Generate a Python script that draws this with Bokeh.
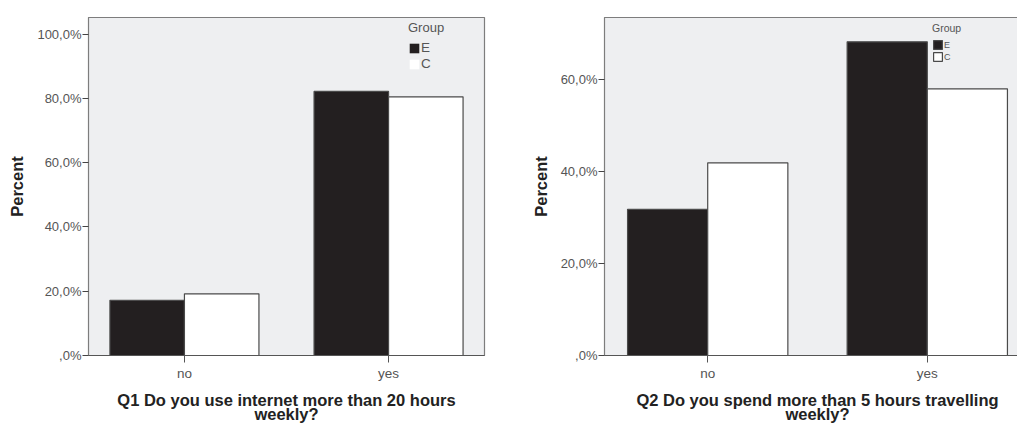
from bokeh.plotting import figure
from bokeh.layouts import row
from bokeh.models import FixedTicker, Range1d, Legend, LegendItem, ColumnDataSource
from bokeh.transform import dodge
from bokeh.embed import file_html
from bokeh.resources import INLINE

# --- data -------------------------------------------------------------
answers = ["no", "yes"]
groups = ["E", "C"]

q1_e = [17.2, 82.2]
q1_c = [19.2, 80.5]
q2_e = [31.8, 68.2]
q2_c = [41.9, 58.0]

q1_ticks = [0, 20, 40, 60, 80, 100]
q1_tick_labels = [",0%", "20,0%", "40,0%", "60,0%", "80,0%", "100,0%"]
q2_ticks = [0, 20, 40, 60]
q2_tick_labels = [",0%", "20,0%", "40,0%", "60,0%"]

q1_title = "Q1 Do you use internet more than 20 hours\nweekly?"
q2_title = "Q2 Do you spend more than 5 hours travelling\nweekly?"

# --- styling ----------------------------------------------------------
FONT = "Liberation Sans"
E_FILL = "#231f20"
C_FILL = "#ffffff"
BAR_LINE = "#4a4a4a"
PANEL_BG = "#eeeff1"
FRAME = "#7d7d7d"
TICK_TEXT = "#555555"
BAR_W = 0.365


def bar_chart(e_vals, c_vals, ticks, tick_labels, title, y_end,
              width, border, legend_cfg, borderless_keys):
    src = ColumnDataSource(dict(x=list(range(len(answers))), E=e_vals, C=c_vals))
    left, right, top, bottom = border
    p = figure(width=width, height=425, output_backend="svg", toolbar_location=None,
               x_range=Range1d(-0.47, 1.47), y_range=Range1d(0, y_end),
               min_border_left=left, min_border_right=right,
               min_border_top=top, min_border_bottom=bottom)
    p.background_fill_color = PANEL_BG
    p.border_fill_color = "white"
    p.outline_line_color = FRAME
    p.outline_line_width = 1.2
    p.xgrid.visible = False
    p.ygrid.visible = False

    r_e = p.vbar(x=dodge("x", -BAR_W / 2, range=p.x_range), top="E", width=BAR_W,
                 source=src, fill_color=E_FILL, line_color=BAR_LINE, line_width=1.2)
    r_c = p.vbar(x=dodge("x", BAR_W / 2, range=p.x_range), top="C", width=BAR_W,
                 source=src, fill_color=C_FILL, line_color=BAR_LINE, line_width=1.2)

    # y axis
    ya = p.yaxis[0]
    ya.ticker = FixedTicker(ticks=ticks)
    ya.major_label_overrides = {t: lab for t, lab in zip(ticks, tick_labels)}
    ya.minor_tick_line_color = None
    ya.major_tick_in = 0
    ya.major_tick_out = 6
    ya.major_tick_line_color = "#444444"
    ya.axis_line_color = FRAME
    ya.major_label_standoff = 1
    ya.major_label_text_font = FONT
    ya.major_label_text_font_size = "13px"
    ya.major_label_text_color = TICK_TEXT
    ya.axis_label = "Percent"
    ya.axis_label_text_font = FONT
    ya.axis_label_text_font_style = "bold"
    ya.axis_label_text_font_size = "16.5px"
    ya.axis_label_text_color = "#222222"
    ya.axis_label_standoff = 8

    # x axis
    xa = p.xaxis[0]
    xa.ticker = FixedTicker(ticks=list(range(len(answers))))
    xa.major_label_overrides = {i: a for i, a in enumerate(answers)}
    xa.minor_tick_line_color = None
    xa.major_tick_in = 0
    xa.major_tick_out = 7
    xa.major_tick_line_color = "#555555"
    xa.axis_line_color = "#555555"
    xa.axis_line_width = 1.2
    xa.major_label_standoff = 3
    xa.major_label_text_font = FONT
    xa.major_label_text_font_size = "13.5px"
    xa.major_label_text_color = TICK_TEXT
    xa.axis_label = title
    xa.axis_label_text_font = FONT
    xa.axis_label_text_font_style = "bold"
    xa.axis_label_text_font_size = "16.5px"
    xa.axis_label_text_color = "#222222"
    xa.axis_label_text_line_height = 0.8
    xa.axis_label_standoff = 7

    # legend keys: on the left panel the keys carry no outline
    if borderless_keys:
        ke = p.vbar(x="x", top="E", width=0, source=src,
                    fill_color=E_FILL, line_color=None)
        kc = p.vbar(x="x", top="C", width=0, source=src,
                    fill_color=C_FILL, line_color=None)
        rends = [ke, kc]
    else:
        rends = [r_e, r_c]
    items = [LegendItem(label=g, renderers=[r]) for g, r in zip(groups, rends)]
    (lx, ly, gsize, spacing, title_size, label_size, standoff) = legend_cfg
    legend = Legend(items=items, title="Group", location=(lx, ly),
                    orientation="vertical", padding=0, margin=0,
                    spacing=spacing, glyph_width=gsize, glyph_height=gsize,
                    label_height=gsize, label_width=gsize, label_standoff=1,
                    title_standoff=standoff,
                    background_fill_alpha=0, border_line_color=None)
    legend.title_text_font = FONT
    legend.title_text_font_style = "normal"
    legend.title_text_font_size = title_size
    legend.title_text_color = TICK_TEXT
    legend.label_text_font = FONT
    legend.label_text_font_size = label_size
    legend.label_text_color = TICK_TEXT
    p.add_layout(legend, "center")
    return p


p1 = bar_chart(q1_e, q1_c, q1_ticks, q1_tick_labels, q1_title, 105.2,
               width=500, border=(88, 16, 13, 69),
               legend_cfg=(320, 284, 12, 1, "13px", "13.5px", 5),
               borderless_keys=True)
p2 = bar_chart(q2_e, q2_c, q2_ticks, q2_tick_labels, q2_title, 73.5,
               width=530, border=(104, 0, 17, 62),
               legend_cfg=(328, 293, 11, 1, "10.5px", "9px", 5),
               borderless_keys=False)

layout = row(p1, p2, width=1017, height=425, styles={"overflow": "hidden"})

open("out.html", "w").write(file_html(layout, INLINE))
